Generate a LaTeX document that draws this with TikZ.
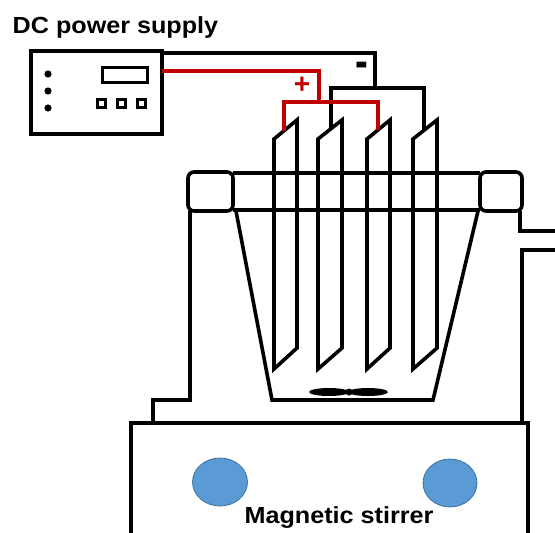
\documentclass[tikz,border=0pt]{standalone}
\usepackage{fontspec}
\setmainfont{Liberation Sans}
\usetikzlibrary{calc}
\definecolor{wirered}{HTML}{C00000}
\definecolor{knobfill}{HTML}{5B9BD5}
\definecolor{knobline}{HTML}{41719C}
\newcommand{\widetext}[1]{\scalebox{1.08}[1]{#1}}
\begin{document}
\begin{tikzpicture}[x=1pt,y=-1pt,
  outline/.style={line width=3.6pt,line join=miter},
  wire/.style={line width=3.2pt},
  redwire/.style={wire,draw=wirered},
  label/.style={font=\fontsize{23.3}{26}\selectfont\bfseries,inner sep=0pt},
  knob/.style={fill=knobfill,draw=knobline,line width=0.8pt}]
\useasboundingbox (0,0) rectangle (555,533);

% ---- DC power supply ----
\node[label,anchor=base west] (title) at (12.5,33.3) {\widetext{DC power supply}};
\draw[outline] (31,51) rectangle (162,134);
\coordinate (psneg) at (162,53);
\coordinate (pspos) at (162,71);
\foreach \y in {74,91,108} \fill (48,\y) circle (3.6);
\draw[line width=3pt] (102,67) rectangle (147,82);
\foreach \x in {101.5,121.5,141.5}
  \draw[line width=3.4pt] (\x-4,99.5) rectangle (\x+4,107.5);

% ---- electrodes ----
\foreach \xl/\xr in {274/297,318/342,367/390,413/437}{
  \draw[outline] (\xl,369) -- (\xl,139) -- (\xr,120) -- (\xr,348) -- cycle;
}
% contact points on the top edges of the plates
\coordinate (c1) at (284,131);
\coordinate (c2) at (331,129);
\coordinate (c3) at (378,130);
\coordinate (c4) at (424,130);

% ---- wiring ----
\draw[wire] (psneg) -- (375,53) -- (375,88);
\draw[wire] (c2) -- (331,88) -- (424,88) -- (c4);
\draw[redwire] (pspos) -- (319,71) -- (319,102);
\draw[redwire] (c1) -- (284,102) -- (378,102) -- (c3);
\node[inner sep=0pt,text=wirered,font=\fontsize{28}{28}\selectfont\bfseries] (plus) at (302,85) {+};
\node[inner sep=0pt,font=\fontsize{32}{32}\selectfont\bfseries] (minus) at (362,70) {\scalebox{1.2}[1.5]{-}};

% ---- cell rim and vessel ----
\draw[outline,rounded corners=6pt] (188,172) rectangle (233,211);
\draw[outline,rounded corners=6pt] (480,172) rectangle (522,211);
\draw[outline] (233,173) -- (480,173);
\draw[outline] (233,210) -- (480,210);
\draw[outline] (236,211) -- (272,400) -- (433,400) -- (478,211);

% stirring bar
\fill (329,392) ellipse (20 and 4);
\fill (368,392) ellipse (20 and 4);
\fill (349,392) circle (3.5);

% ---- jacket / stand ----
\draw[outline] (190,211) -- (190,400) -- (153,400) -- (153,423);
\draw[outline] (520,211) -- (520,231) -- (556,231);
\draw[outline] (556,250) -- (522,250) -- (522,423);

% ---- magnetic stirrer ----
\draw[outline] (131,534) -- (131,423) -- (528,423) -- (528,534);
\draw[knob] (220,482) ellipse (27.5 and 24);
\draw[knob] (450,483) ellipse (27 and 24);
\node[label,anchor=base] (stirrer) at (339,523.3) {\widetext{Magnetic stirrer}};
\end{tikzpicture}
\end{document}
